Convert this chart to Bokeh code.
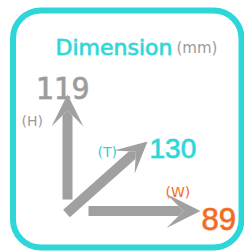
from bokeh.plotting import figure
from bokeh.models import Range1d, BoxAnnotation, Arrow, VeeHead, ColumnDataSource
from bokeh.core.properties import value
from bokeh.embed import file_html
from bokeh.resources import INLINE

# data
dims = ["H", "T", "W"]
dim_values = [119, 130, 89]
dim_labels = ["(H)", "(T)", "(W)"]
title_text = "Dimension"
unit_text = "(mm)"

CYAN = "#2dd6d8"
ORANGE = "#f26b1f"
GRAY = "#9b9b9b"
ARROW = "#a0a0a0"
CYAN_SOFT = "#80e5e6"
ORANGE_SOFT = "#f6a274"
GRAY_SOFT = "#c4c4c4"

p = figure(width=244, height=252, output_backend="svg", toolbar_location=None,
           x_range=Range1d(0, 244), y_range=Range1d(252, 0), min_border=0)
p.axis.visible = False
p.grid.visible = False
p.outline_line_color = None
p.background_fill_color = "white"

p.add_layout(BoxAnnotation(left=12.5, right=241, top=10, bottom=247, fill_alpha=0,
                           line_color=CYAN, line_width=6, border_radius=28,
                           line_alpha=1))

# arrows
arrows = [
    (67, 199, 67, 94, 32),    # H
    (66, 213, 147, 141, 31),  # T
    (88, 210.5, 200, 210.5, 34),  # W
]
for xs, ys, xe, ye, sz in arrows:
    p.add_layout(Arrow(x_start=xs, y_start=ys, x_end=xe, y_end=ye,
                       line_color=ARROW, line_width=10,
                       end=VeeHead(size=sz, fill_color=ARROW, line_color=ARROW, line_width=0)))

# title (soft halo underneath, then crisp text)
p.text(x=[55], y=[47], text=[title_text], text_font=value("DejaVu Sans"),
       text_font_size="22px", text_color=CYAN_SOFT, text_outline_color=CYAN_SOFT,
       text_baseline="alphabetic")
p.text(x=[55], y=[47], text=[title_text], text_font=value("DejaVu Sans"),
       text_font_size="22px", text_color=CYAN, text_baseline="alphabetic")
p.text(x=[176], y=[47], text=[unit_text], text_font=value("DejaVu Sans"),
       text_font_size="15px", text_color=GRAY,
       text_baseline="alphabetic")

# value labels
val_src = ColumnDataSource(dict(
    x=[35, 149, 201], y=[87, 148, 218],
    t=[str(v) for v in dim_values],
    c=[GRAY, CYAN, ORANGE],
    o=[GRAY_SOFT, CYAN_SOFT, ORANGE_SOFT],
    f=["DejaVu Sans Mono", "Liberation Sans", "Liberation Sans"],
    s=["30px", "28px", "31px"],
))
p.text(x="x", y="y", text="t", text_color="o", text_outline_color="o",
       text_font="f", text_font_size="s",
       text_baseline="alphabetic", source=val_src)
p.text(x="x", y="y", text="t", text_color="c",
       text_font="f", text_font_size="s",
       text_baseline="alphabetic", source=val_src)

lab_src = ColumnDataSource(dict(
    x=[21, 97, 165], y=[120, 151, 191],
    t=dim_labels,
    c=[GRAY, CYAN, ORANGE],
))
p.text(x="x", y="y", text="t", text_color="c", text_font=value("DejaVu Sans"),
       text_font_size="14px", text_baseline="alphabetic", source=lab_src)

open("out.html", "w").write(file_html(p, INLINE))
